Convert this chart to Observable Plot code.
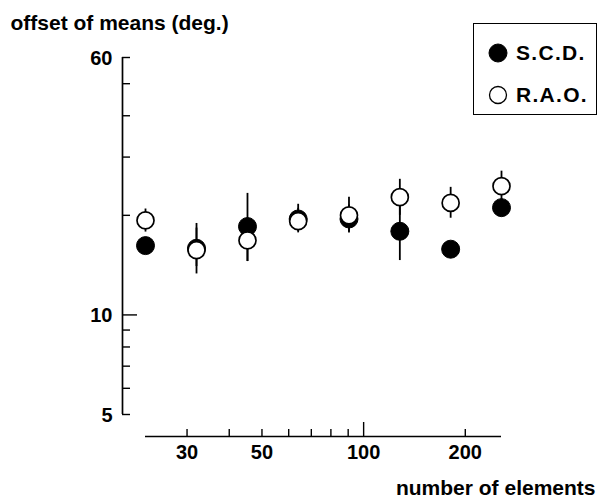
<!DOCTYPE html>
<html>
<head>
<meta charset="utf-8">
<script src="https://cdn.jsdelivr.net/npm/d3@7"></script>
<script src="https://cdn.jsdelivr.net/npm/@observablehq/plot@0.6"></script>
<style>
  html, body { margin: 0; padding: 0; background: #fff; }
  #wrap { position: relative; width: 600px; height: 498px; font-family: "Liberation Sans", Arial, Helvetica, sans-serif; }
  #legend { position: absolute; left: 473px; top: 23px; width: 122px; height: 90px; border: 1.5px solid #000; background: #fff; }
  .row { position: absolute; left: 0; display: flex; align-items: center; font-weight: bold; font-size: 21px; letter-spacing: 1.3px; color: #000; line-height: 22px; }
  .row svg { margin-left: 14px; margin-right: 8px; }
</style>
</head>
<body>
<div id="wrap">
  <div id="chart"></div>
  <div id="legend"></div>
</div>
<script>
// ---- data ----
const elements = [22.6, 32, 45.3, 64, 90.5, 128, 181, 256];
const scdMean = [16.2, 15.9, 18.5, 19.5, 19.5, 17.9, 15.8, 21.1];
const scdLow  = [15.5, 13.3, 14.5, 17.7, 17.7, 14.6, 15.2, 20.0];
const scdHigh = [17.0, 18.9, 23.3, 21.6, 21.5, 21.9, 16.4, 22.4];
const raoMean = [19.3, 15.7, 16.8, 19.2, 20.0, 22.7, 21.8, 24.5];
const raoLow  = [17.8, 14.0, 14.5, 17.9, 17.8, 20.0, 19.6, 22.1];
const raoHigh = [20.9, 18.3, 19.5, 21.0, 22.7, 25.7, 24.3, 27.2];
const xDomain = [22.6, 256];
const yDomain = [5, 60];
const xTicks = [30, 40, 50, 60, 70, 80, 90, 100, 200];
const xMajor = [100];
const xLabels = [30, 50, 100, 200];
const yTicks = [5, 6, 7, 8, 9, 10, 20, 30, 40, 50, 60];
const yMajor = [10];
const yLabels = [5, 10, 60];
const seriesNames = ["S.C.D.", "R.A.O."];

const scd = elements.map((x, i) => ({x, y: scdMean[i], lo: scdLow[i], hi: scdHigh[i]}));
const rao = elements.map((x, i) => ({x, y: raoMean[i], lo: raoLow[i], hi: raoHigh[i]}));

const W = 600, H = 498;
const mL = 145, mR = 99, mT = 57, mB = 84;
const frameW = W - mL - mR, frameH = H - mT - mB;
const font = "Liberation Sans, Arial, Helvetica, sans-serif";

const chart = Plot.plot({
  width: W, height: H,
  marginLeft: mL, marginRight: mR, marginTop: mT, marginBottom: mB,
  style: {fontFamily: font, background: "#fff", color: "#000", overflow: "visible"},
  x: {type: "log", domain: xDomain, axis: null},
  y: {type: "log", domain: yDomain, axis: null},
  marks: [
    // y axis line & ticks (pointing inward)
    Plot.ruleX([xDomain[0]], {dx: -23, stroke: "#000", strokeWidth: 1.7}),
    Plot.tickY(yTicks.filter(d => !yMajor.includes(d)), {y: d => d, dx: -23, insetRight: frameW - 8, stroke: "#000", strokeWidth: 1.4}),
    Plot.tickY(yMajor, {y: d => d, dx: -23, insetRight: frameW - 15, stroke: "#000", strokeWidth: 1.4}),
    Plot.text(yLabels, {y: d => d, text: d => String(d), frameAnchor: "left", dx: -33, dy: 1, textAnchor: "end", fontSize: 20, fontWeight: "bold", fill: "#000"}),
    // x axis line & ticks (pointing up)
    Plot.ruleY([yDomain[0]], {dy: 22, stroke: "#000", strokeWidth: 1.7}),
    Plot.tickX(xTicks.filter(d => !xMajor.includes(d)), {x: d => d, dy: 22, insetTop: frameH - 7, stroke: "#000", strokeWidth: 1.4}),
    Plot.tickX(xMajor, {x: d => d, dy: 22, insetTop: frameH - 14, stroke: "#000", strokeWidth: 1.4}),
    Plot.text(xLabels, {x: d => d, text: d => String(d), frameAnchor: "bottom", dy: 38, lineAnchor: "middle", fontSize: 20, fontWeight: "bold", fill: "#000"}),
    // titles
    Plot.text(["offset of means (deg.)"], {frameAnchor: "top-left", dx: -135, dy: -28, textAnchor: "start", lineAnchor: "bottom", fontSize: 21, fontWeight: "bold", fill: "#000"}),
    Plot.text(["number of elements"], {frameAnchor: "bottom-right", dx: 94, dy: 80, textAnchor: "end", lineAnchor: "bottom", fontSize: 21, fontWeight: "bold", fill: "#000"}),
    // error bars
    Plot.ruleX(scd, {x: "x", y1: "lo", y2: "hi", stroke: "#000", strokeWidth: 1.8}),
    Plot.ruleX(rao, {x: "x", y1: "lo", y2: "hi", stroke: "#000", strokeWidth: 1.8}),
    // points
    Plot.dot(scd, {x: "x", y: "y", r: 9, fill: "#000", stroke: "#000", strokeWidth: 1}),
    Plot.dot(rao, {x: "x", y: "y", r: 8.5, fill: "#fff", stroke: "#000", strokeWidth: 1.7})
  ]
});
document.getElementById("chart").appendChild(chart);

// legend
const legend = document.getElementById("legend");
seriesNames.forEach((name, i) => {
  const row = document.createElement("div");
  row.className = "row";
  row.style.top = (i === 0 ? 18 : 60) + "px";
  const filled = i === 0;
  row.innerHTML = `<svg width="20" height="20" viewBox="0 0 20 20"><circle cx="10" cy="10" r="${filled ? 9 : 8.5}" fill="${filled ? "#000" : "#fff"}" stroke="#000" stroke-width="${filled ? 1 : 1.3}"/></svg><span>${name}</span>`;
  legend.appendChild(row);
});
</script>
</body>
</html>
